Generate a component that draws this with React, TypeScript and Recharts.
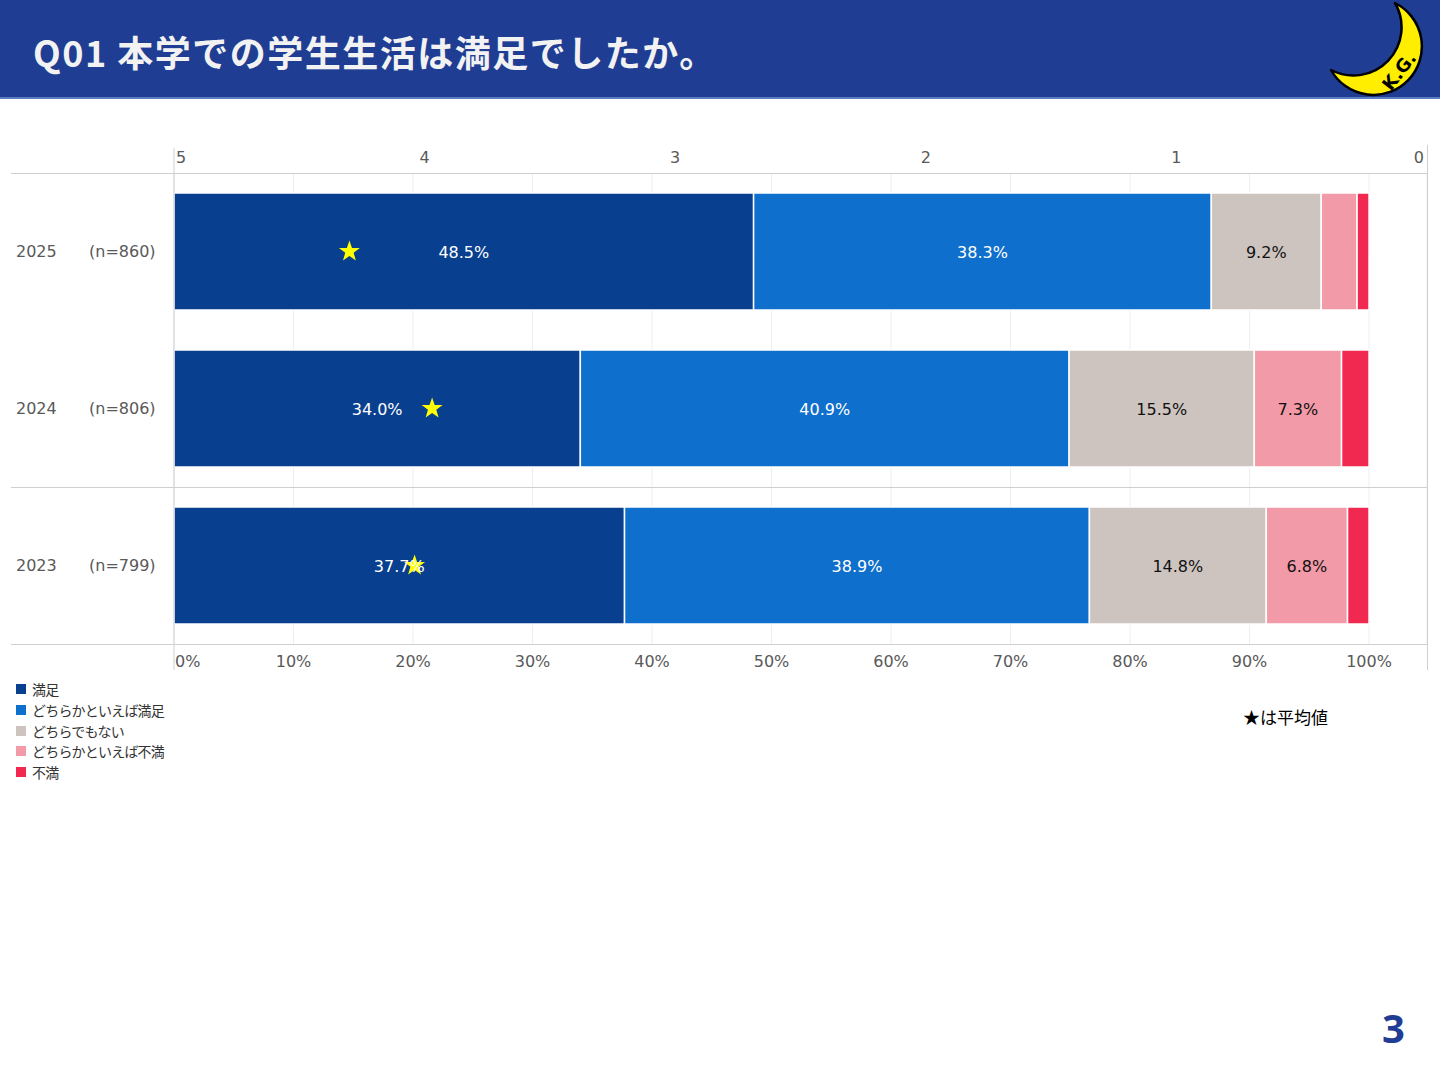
import React from "react";
import {
  Bar,
  CartesianGrid,
  ComposedChart,
  LabelList,
  Scatter,
  XAxis,
  YAxis,
} from "recharts";

// survey rows (top to bottom)
const years = ["2025", "2024", "2023"];
const sampleSizes = [860, 806, 799];

// answer shares in %
const satisfied = [48.5, 34.0, 37.7];
const somewhatSatisfied = [38.3, 40.9, 38.9];
const neutral = [9.2, 15.5, 14.8];
const somewhatDissatisfied = [3.0, 7.3, 6.8];
const dissatisfied = [1.0, 2.3, 1.8];

// mean score (5 = 満足 ... 1 = 不満)
const averages = [4.3, 3.97, 4.04];

const pctTicks = [0, 10, 20, 30, 40, 50, 60, 70, 80, 90, 100];
const scoreTicks = [5, 4, 3, 2, 1, 0];

const series = [
  { key: "satisfied", name: "満足", color: "#083f8f", text: "#ffffff" },
  { key: "somewhatSatisfied", name: "どちらかといえば満足", color: "#0f6fcc", text: "#ffffff" },
  { key: "neutral", name: "どちらでもない", color: "#cdc4bf", text: "#111111" },
  { key: "somewhatDissatisfied", name: "どちらかといえば不満", color: "#f39aa8", text: "#111111" },
  { key: "dissatisfied", name: "不満", color: "#f1284f", text: "#ffffff" },
];

const chartData = years.map((year, i) => ({
  year,
  n: sampleSizes[i],
  satisfied: satisfied[i],
  somewhatSatisfied: somewhatSatisfied[i],
  neutral: neutral[i],
  somewhatDissatisfied: somewhatDissatisfied[i],
  dissatisfied: dissatisfied[i],
  avg: averages[i],
}));

const NUM_FONT = "'DejaVu Sans', 'Noto Sans CJK JP', sans-serif";
const JP_FONT = "'Noto Sans CJK JP', sans-serif";

const YearTick = ({ y, payload, index }: any) => (
  <g>
    <text x={16} y={y} dy={5} fontSize={16} fill="#595959" fontFamily={NUM_FONT}>
      {payload.value}
    </text>
    <text x={89} y={y} dy={5} fontSize={16} fill="#595959" fontFamily={NUM_FONT}>
      {`(n=${sampleSizes[index]})`}
    </text>
  </g>
);

const PctTick = ({ x, y, payload }: any) => (
  <text
    x={payload.value === 0 ? x + 1 : x}
    y={y}
    dy={6}
    textAnchor={payload.value === 0 ? "start" : "middle"}
    fontSize={16}
    fill="#595959"
    fontFamily={NUM_FONT}
  >
    {`${payload.value}%`}
  </text>
);

const ScoreTick = ({ x, y, payload }: any) => {
  const anchor = payload.value === 5 ? "start" : payload.value === 0 ? "end" : "middle";
  const dx = payload.value === 5 ? 2 : payload.value === 0 ? -3 : 0;
  return (
    <text x={x + dx} y={y} dy={6} textAnchor={anchor} fontSize={16} fill="#595959" fontFamily={NUM_FONT}>
      {payload.value}
    </text>
  );
};

const makeLabel = (color: string) => (props: any) => {
  const { x, y, width, height, value } = props;
  if (value < 5) return null;
  return (
    <text
      x={x + width / 2}
      y={y + height / 2}
      dy={6}
      textAnchor="middle"
      fontSize={16}
      fill={color}
      fontFamily={NUM_FONT}
    >
      {`${value.toFixed(1)}%`}
    </text>
  );
};

const Star = ({ cx, cy }: any) => {
  const outer = 11;
  const inner = 4.4;
  const pts: string[] = [];
  for (let k = 0; k < 10; k++) {
    const r = k % 2 === 0 ? outer : inner;
    const a = -Math.PI / 2 + (k * Math.PI) / 5;
    pts.push(`${cx + r * Math.cos(a)},${cy + r * Math.sin(a)}`);
  }
  return <polygon points={pts.join(" ")} fill="#ffff00" />;
};

function Header() {
  return (
    <div
      style={{
        position: "absolute",
        left: 0,
        top: 0,
        width: 1440,
        height: 97,
        background: "#1f3d93",
        borderBottom: "2px solid #5b7cc0",
      }}
    >
      <div
        style={{
          position: "absolute",
          left: 33,
          top: 26,
          color: "#f2f2f2",
          fontFamily: JP_FONT,
          fontWeight: 700,
          fontSize: 36,
          letterSpacing: 1.5,
          lineHeight: "50px",
          whiteSpace: "nowrap",
        }}
      >
        Q01 本学での学生生活は満足でしたか。
      </div>
      <svg width={1440} height={97} style={{ position: "absolute", left: 0, top: 0 }}>
        <path
          d="M1395,3 A48.5,48.5 0 1,1 1331,70 A48.2,48.2 0 0,0 1395,3 Z"
          fill="#ffee00"
          stroke="#000"
          strokeWidth={2.5}
          strokeLinejoin="round"
        />
        <text
          x={1399}
          y={71}
          transform="rotate(-52 1399 71)"
          textAnchor="middle"
          dominantBaseline="central"
          fontSize={18}
          fontWeight={700}
          fontFamily="'DejaVu Sans', sans-serif"
          fill="#000"
        >
          K.G.
        </text>
      </svg>
    </div>
  );
}

function Legend() {
  return (
    <div style={{ position: "absolute", left: 16, top: 679 }}>
      {series.map((s) => (
        <div key={s.key} style={{ display: "flex", alignItems: "center", height: 20.7 }}>
          <span style={{ width: 10, height: 10, background: s.color, display: "inline-block", marginRight: 6 }} />
          <span
            style={{
              fontFamily: JP_FONT,
              fontSize: 14,
              letterSpacing: -0.8,
              color: "#333",
              lineHeight: "20px",
              whiteSpace: "nowrap",
            }}
          >
            {s.name}
          </span>
        </div>
      ))}
    </div>
  );
}

export default function App() {
  return (
    <div
      style={{
        position: "absolute",
        left: 0,
        top: 0,
        width: 1440,
        height: 1080,
        background: "#fff",
        overflow: "hidden",
      }}
    >
      <Header />
      <div style={{ position: "absolute", left: 0, top: 140 }}>
        <ComposedChart
          width={1440}
          height={534}
          data={chartData}
          layout="vertical"
          margin={{ top: 0, right: 13, bottom: 0, left: 0 }}
        >
          <CartesianGrid xAxisId="pct" horizontal={false} stroke="#eeeeee" />
          <XAxis
            xAxisId="pct"
            type="number"
            orientation="bottom"
            domain={[0, 104.85]}
            ticks={pctTicks}
            height={30}
            tickSize={0}
            tickMargin={17}
            axisLine={false}
            tickLine={false}
            tick={<PctTick />}
            allowDataOverflow
          />
          <XAxis
            xAxisId="avg"
            type="number"
            orientation="top"
            domain={[0, 5]}
            reversed
            ticks={scoreTicks}
            height={33}
            tickSize={0}
            tickMargin={16}
            axisLine={false}
            tickLine={false}
            tick={<ScoreTick />}
          />
          <YAxis
            type="category"
            dataKey="year"
            width={174}
            axisLine={false}
            tickLine={false}
            tick={<YearTick />}
          />
          {series.map((s) => (
            <Bar
              key={s.key}
              xAxisId="pct"
              dataKey={s.key}
              name={s.name}
              stackId="a"
              fill={s.color}
              stroke="#ffffff"
              strokeWidth={1.5}
              barSize={117}
              isAnimationActive={false}
            >
              <LabelList dataKey={s.key} content={makeLabel(s.text)} />
            </Bar>
          ))}
          <Scatter xAxisId="avg" dataKey="avg" shape={<Star />} isAnimationActive={false} />
        </ComposedChart>
      </div>
      {/* frame lines of the table-like chart */}
      <svg width={1440} height={1080} style={{ position: "absolute", left: 0, top: 0, pointerEvents: "none" }}>
        <g stroke="#cfcfcf" strokeWidth={1}>
          <line x1={11} x2={1427} y1={173.5} y2={173.5} />
          <line x1={11} x2={1427} y1={487.5} y2={487.5} />
          <line x1={11} x2={1427} y1={644.5} y2={644.5} />
          <line x1={174} x2={174} y1={148} y2={670} />
          <line x1={1427.5} x2={1427.5} y1={145} y2={670} />
        </g>
      </svg>
      <Legend />
      <div
        style={{
          position: "absolute",
          left: 1243,
          top: 704,
          fontFamily: JP_FONT,
          fontSize: 17,
          color: "#000",
          lineHeight: "26px",
          whiteSpace: "nowrap",
        }}
      >
        ★は平均値
      </div>
      <div
        style={{
          position: "absolute",
          left: 1382,
          top: 1004,
          fontFamily: "'Open Sans', 'DejaVu Sans', sans-serif",
          fontWeight: 700,
          fontSize: 40,
          color: "#1f3d93",
          lineHeight: "48px",
        }}
      >
        3
      </div>
    </div>
  );
}
